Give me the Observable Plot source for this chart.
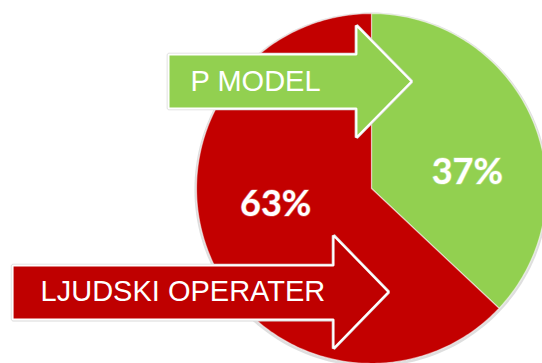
<!DOCTYPE html>
<html>
<head>
<meta charset="utf-8">
<script src="https://cdn.jsdelivr.net/npm/d3@7"></script>
<script src="https://cdn.jsdelivr.net/npm/@observablehq/plot@0.6"></script>
<style>
  html, body { margin: 0; padding: 0; background: #ffffff; }
  svg { display: block; }
</style>
</head>
<body>
<div id="chart"></div>
<script>
// ---- data ----
const categories = ["P MODEL", "LJUDSKI OPERATER"];
const values = [37, 63];
const valueLabels = ["37%", "63%"];

// ---- styles / layout ----
const sliceColors = ["#92D050", "#C30000"];
const arrowColors = ["#92D050", "#BF0000"];
const W = 542, H = 363;
const CX = 371, CY = 188, R = 175; // pie centre and radius in pixels

// pie units: centre (0,0), radius 1, y up
const xDomain = [-CX / R, (W - CX) / R];
const yDomain = [(CY - H) / R, CY / R];

const total = d3.sum(values);
const toRad = Math.PI / 180;
let acc = 0;
const slices = categories.map((c, i) => {
  const a0 = acc / total * 360;
  acc += values[i];
  const a1 = acc / total * 360;
  return {category: c, value: values[i], label: valueLabels[i], a0, a1, color: sliceColors[i]};
});

function slicePolygon(s, r = 1) {
  const pts = [{x: 0, y: 0}];
  const n = Math.max(2, Math.ceil(s.a1 - s.a0));
  for (let k = 0; k <= n; k++) {
    const a = (s.a0 + (s.a1 - s.a0) * k / n) * toRad;
    pts.push({x: r * Math.sin(a), y: r * Math.cos(a)});
  }
  return pts;
}
const circle = d3.range(0, 361, 2).map(a => ({x: 1.012 * Math.sin(a * toRad), y: 1.012 * Math.cos(a * toRad) - 0.006}));

// labels: placed at radius 0.555 rotated slightly past the mid angle
const labelPts = slices.map(s => {
  const a = ((s.a0 + s.a1) / 2 + 14) * toRad;
  return {x: 0.555 * Math.sin(a), y: 0.555 * Math.cos(a), label: s.label};
});

// arrow annotations (pie units): body x0, body y top/bottom, head base x, head y top/bottom, tip x
const arrowGeom = [
  {x0: -1.160, bt: 0.766, bb: 0.457, hx: -0.086, ht: 0.931, hb: 0.291, tx: 0.229, textX: -1.034},
  {x0: -2.051, bt: -0.440, bb: -0.749, hx: -0.217, ht: -0.269, hb: -0.914, tx: 0.097, textX: -1.891}
];
const arrows = arrowGeom.map((g, i) => {
  const ty = (g.ht + g.hb) / 2;
  return {
    name: categories[i],
    color: arrowColors[i],
    textX: g.textX, textY: ty,
    pts: [
      {x: g.x0, y: g.bt}, {x: g.hx, y: g.bt}, {x: g.hx, y: g.ht}, {x: g.tx, y: ty},
      {x: g.hx, y: g.hb}, {x: g.hx, y: g.bb}, {x: g.x0, y: g.bb}
    ]
  };
});

const marks = [];
// soft shadow rim
marks.push(Plot.line(circle, {x: "x", y: "y", curve: "linear-closed", fill: "#c8c8c8", fillOpacity: 0.6, stroke: "none"}));
// slices
for (const s of slices) {
  marks.push(Plot.line(slicePolygon(s), {x: "x", y: "y", curve: "linear-closed", fill: s.color, stroke: "#ffffff", strokeOpacity: 0.55, strokeWidth: 1.2, strokeLinejoin: "round"}));
}
// value labels
marks.push(Plot.text(labelPts, {x: "x", y: "y", text: "label", fill: "#ffffff", fontSize: 36, fontWeight: "bold", fontFamily: "Lato, 'Open Sans', sans-serif", stroke: "#ffffff", strokeOpacity: 0.25, strokeWidth: 1.5}));
// arrows
for (const a of arrows) {
  marks.push(Plot.line(a.pts, {x: "x", y: "y", curve: "linear-closed", fill: "none", stroke: "#d9d9d9", strokeWidth: 3.6, strokeLinejoin: "miter"}));
  marks.push(Plot.line(a.pts, {x: "x", y: "y", curve: "linear-closed", fill: a.color, stroke: "#ffffff", strokeWidth: 2, strokeLinejoin: "miter"}));
  marks.push(Plot.text([a], {x: "textX", y: "textY", text: "name", textAnchor: "start", fill: "#ffffff", fontSize: 29, fontFamily: "'Liberation Sans', Arial, sans-serif"}));
}

const chart = Plot.plot({
  width: W,
  height: H,
  margin: 0,
  x: {domain: xDomain, axis: null},
  y: {domain: yDomain, axis: null},
  style: {background: "#ffffff", overflow: "hidden"},
  marks
});
document.getElementById("chart").appendChild(chart);
</script>
</body>
</html>
